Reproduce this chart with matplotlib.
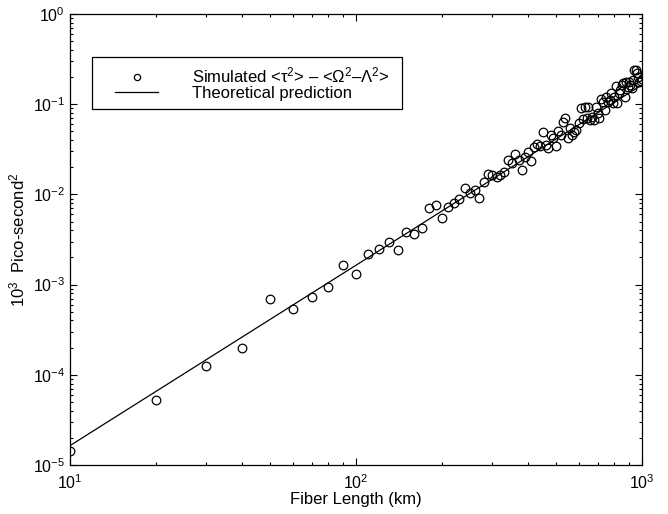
import matplotlib
matplotlib.use("Agg")
import matplotlib.pyplot as plt
from matplotlib.ticker import LogLocator, NullFormatter
from matplotlib.patches import Rectangle

plt.rcParams['font.family'] = ['Liberation Sans', 'DejaVu Sans']
plt.rcParams['mathtext.fontset'] = 'custom'
plt.rcParams['mathtext.rm'] = 'Liberation Sans'
plt.rcParams['mathtext.it'] = 'Liberation Sans:italic'
plt.rcParams['mathtext.bf'] = 'Liberation Sans:bold'

# Simulated data: fiber length (km) and <tau^2> - <Omega^2 - Lambda^2> (10^3 ps^2)
length_km = [10, 20, 30, 40, 50, 60, 70, 80, 90, 100,
             110, 120, 130, 140, 150, 160, 170, 180, 190, 200,
             210, 220, 230, 240, 250, 260, 270, 280, 290, 300,
             310, 320, 330, 340, 350, 360, 370, 380, 390, 400,
             410, 420, 430, 440, 450, 460, 470, 480, 490, 500,
             510, 520, 530, 540, 550, 560, 570, 580, 590, 600,
             610, 620, 630, 640, 650, 660, 670, 680, 690, 700,
             710, 720, 730, 740, 750, 760, 770, 780, 790, 800,
             810, 820, 830, 840, 850, 860, 870, 880, 890, 900,
             910, 920, 930, 940, 950, 960, 970, 980, 990, 1000]
simulated = [1.43e-5, 5.26e-5, 1.26e-4, 1.98e-4, 6.87e-4, 5.32e-4, 7.34e-4, 9.48e-4, 1.66e-3, 1.31e-3,
             2.17e-3, 2.48e-3, 2.99e-3, 2.42e-3, 3.80e-3, 3.61e-3, 4.21e-3, 7.07e-3, 7.57e-3, 5.43e-3,
             7.19e-3, 8.09e-3, 8.82e-3, 1.17e-2, 1.03e-2, 1.12e-2, 9.2e-3, 1.38e-2, 1.67e-2, 1.64e-2,
             1.55e-2, 1.64e-2, 1.79e-2, 2.41e-2, 2.21e-2, 2.78e-2, 2.41e-2, 1.87e-2, 2.62e-2, 2.98e-2,
             2.36e-2, 3.33e-2, 3.62e-2, 3.44e-2, 4.88e-2, 3.53e-2, 3.24e-2, 4.56e-2, 4.25e-2, 3.44e-2,
             5.04e-2, 4.6e-2, 6.4e-2, 6.97e-2, 4.19e-2, 5.4e-2, 4.56e-2, 4.96e-2, 5.18e-2, 6.24e-2,
             9.0e-2, 6.8e-2, 9.2e-2, 6.97e-2, 9.4e-2, 6.68e-2, 7.27e-2, 6.68e-2, 9.4e-2, 8.0e-2,
             6.97e-2, 0.113, 0.1066, 8.63e-2, 0.119, 0.105, 0.111, 0.134, 0.102, 0.119,
             0.159, 0.102, 0.132, 0.144, 0.163, 0.171, 0.121, 0.178, 0.156, 0.175,
             0.165, 0.150, 0.185, 0.239, 0.239, 0.22, 0.2, 0.175, 0.18, 0.19]

# Theoretical prediction (straight line on log-log axes), endpoints
theory_km = [10, 1000]
theory_val = [1.64e-5, 0.164]

x_ticks = [10, 100, 1000]
y_ticks = [1e-5, 1e-4, 1e-3, 1e-2, 1e-1, 1e0]

fig = plt.figure(figsize=(6.68, 5.14), dpi=100)
ax = fig.add_axes([70/668, 1-465/514, 572/668, 451/514])

ax.plot(length_km, simulated, linestyle='none', marker='o', markersize=6.2,
        markerfacecolor='none', markeredgecolor='black', markeredgewidth=0.9,
        label='Simulated <τ$^2$> – <Ω$^2$–Λ$^2$>')
ax.plot(theory_km, theory_val, color='black', linewidth=0.9, label='Theoretical prediction')

ax.set_xscale('log')
ax.set_yscale('log')
ax.set_xlim(10, 1000)
ax.set_ylim(1e-5, 1e0)
ax.set_xticks(x_ticks)
ax.set_yticks(y_ticks)
ax.xaxis.set_minor_locator(LogLocator(base=10, subs=range(2, 10), numticks=20))
ax.yaxis.set_minor_locator(LogLocator(base=10, subs=range(2, 10), numticks=20))
ax.xaxis.set_minor_formatter(NullFormatter())
ax.yaxis.set_minor_formatter(NullFormatter())
ax.tick_params(which='both', direction='in', top=True, right=True, width=0.8,
               labelsize=11.5)
ax.tick_params(which='major', length=5)
ax.tick_params(which='minor', length=2.5)
ax.tick_params(axis='x', which='major', pad=6)
for s in ax.spines.values():
    s.set_linewidth(0.9)

ax.set_xlabel('Fiber Length (km)', fontsize=12, labelpad=0)
ax.set_ylabel(r'$10^3$  Pico-second$^2$', fontsize=12, labelpad=4)

# legend box frame (figure pixel layout)
box = Rectangle((92/668, 1-109/514), 310/668, 52/514,
                transform=fig.transFigure, facecolor='white',
                edgecolor='black', linewidth=0.9, zorder=5, clip_on=False)
ax.add_patch(box)
leg = ax.legend(loc='upper left', bbox_to_anchor=(115/668, 1-66/514),
                bbox_transform=fig.transFigure, borderaxespad=0, frameon=False,
                fontsize=12, numpoints=1, handlelength=2.6,
                handletextpad=2.05, labelspacing=0.0, borderpad=0)
leg.set_zorder(6)
leg.legend_handles[0].set_markersize(4.5)

fig.savefig('out.png', dpi=100)
